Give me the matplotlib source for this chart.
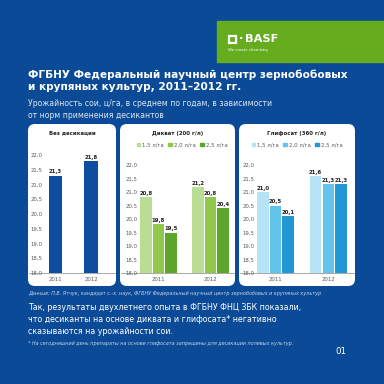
"""
Soybean yield vs desiccant rate, BASF infographic style (3 panels).
"""

import matplotlib
matplotlib.use("Agg")
import matplotlib.pyplot as plt
from matplotlib.patches import FancyBboxPatch, Rectangle, Patch
from matplotlib.lines import Line2D

# Data
years = ["2011", "2012"]
rates = ["1,5 л/га", "2,0 л/га", "2,5 л/га"]
no_desic = [21.3, 21.8]
diquat_2011 = [20.8, 19.8, 19.5]
diquat_2012 = [21.2, 20.8, 20.4]
glyph_2011 = [21.0, 20.5, 20.1]
glyph_2012 = [21.6, 21.3, 21.3]
yticks = [18.0, 18.5, 19.0, 19.5, 20.0, 20.5, 21.0, 21.5, 22.0]

# Colours
bg_blue = "#0b4a96"
basf_green = "#65ac1e"
dark_blue = "#0d4ea0"
greens = ["#b9de93", "#8fc84a", "#5ea52b"]
blues = ["#b6e3f6", "#62c3eb", "#2297d5"]
tick_grey = "#5a5a5a"

W = H = 384.0


def fx(x):
    return x / W


def fy(y):
    return 1 - y / H


def fmt(v):
    return f"{v:.1f}".replace(".", ",")


fig = plt.figure(figsize=(3.84, 3.84), dpi=100)
fig.patch.set_facecolor(bg_blue)

# BASF logo box
fig.patches.append(Rectangle((fx(217), fy(62)), fx(167), 41 / H,
                             transform=fig.transFigure, color=basf_green, zorder=1))
fig.patches.append(Rectangle((fx(229), fy(42.5)), 6.5 / W, 6.5 / H, transform=fig.transFigure,
                             facecolor="none", edgecolor="white", lw=1.6, zorder=2))
fig.text(fx(238.5), fy(39), "·", color="white", fontsize=8, fontweight="bold", va="center")
fig.text(fx(245), fy(39), "BASF", color="white", fontsize=8.2, fontweight="bold", va="center")
fig.text(fx(228), fy(49.5), "We create chemistry", color="white", fontsize=2.8, va="center")

# Headings
fig.text(fx(28), fy(75), "ФГБНУ Федеральный научный центр зернобобовых",
         color="white", fontsize=7.6, fontweight="bold", va="center")
fig.text(fx(28), fy(87.5), "и крупяных культур, 2011–2012 гг.",
         color="white", fontsize=7.6, fontweight="bold", va="center")
fig.text(fx(28), fy(104), "Урожайность сои, ц/га, в среднем по годам, в зависимости",
         color="#dce6f2", fontsize=5.6, va="center")
fig.text(fx(28), fy(116), "от норм применения десикантов",
         color="#dce6f2", fontsize=5.6, va="center")

# Panels: (x0, x1, title)
panels = [(28, 116, "Без десикации"),
          (120, 235, "Дикват (200 г/л)"),
          (239, 355, "Глифосат (360 г/л)")]
for x0, x1, title in panels:
    fig.patches.append(FancyBboxPatch((fx(x0), fy(286)), fx(x1 - x0), 162 / H,
                                      boxstyle="round,pad=0,rounding_size=0.018",
                                      transform=fig.transFigure, facecolor="white",
                                      edgecolor="none", zorder=1))
    fig.add_artist(Line2D([fx(x0 + 1), fx(x1 - 1)], [fy(273), fy(273)],
                          transform=fig.transFigure, color="#9a9a9a", lw=0.6, zorder=3))
    fig.text(fx((x0 + x1) / 2), fy(133), title, fontsize=3.9, fontweight="bold",
             ha="center", va="center", color="#222222", zorder=4)


def style_axis(ax):
    ax.set_facecolor("none")
    for s in ax.spines.values():
        s.set_visible(False)
    ax.set_ylim(18.0, 22.0)
    ax.set_yticks(yticks)
    ax.set_yticklabels([fmt(t) for t in yticks])
    ax.set_xticks([0, 1])
    ax.set_xticklabels(years)
    ax.tick_params(length=0, labelsize=3.9, labelcolor=tick_grey)
    ax.tick_params(axis="y", pad=1.2)
    ax.tick_params(axis="x", pad=3)


def label_bars(ax, bars, values):
    for b, v in zip(bars, values):
        ax.text(b.get_x() + b.get_width() / 2, v + 0.04, fmt(v), ha="center", va="bottom",
                fontsize=3.9, fontweight="bold", color="#222222")


# Panel 1: no desiccation
ax1 = fig.add_axes([fx(44), fy(273), fx(68), 118 / H])
ax1.set_zorder(5)
b = ax1.bar([0, 1], no_desic, width=0.37, color=dark_blue)
label_bars(ax1, b, no_desic)
ax1.set_xlim(-0.324, 1.59)
style_axis(ax1)

# Panels 2 and 3
step, bw = 0.24, 0.22
groups = [(139, 232, diquat_2011, diquat_2012, greens, 182),
          (256, 350, glyph_2011, glyph_2012, blues, 297)]
for ax_x0, ax_x1, v2011, v2012, cols, leg_x in groups:
    ax = fig.add_axes([fx(ax_x0), fy(273), fx(ax_x1 - ax_x0), 108 / H])
    ax.set_zorder(5)
    for i in range(3):
        vals = [v2011[i], v2012[i]]
        bars = ax.bar([(i - 1) * step, 1 + (i - 1) * step], vals, width=bw, color=cols[i])
        label_bars(ax, bars, vals)
    ax.set_xlim(-0.37, 1.41)
    style_axis(ax)
    handles = [Patch(color=c, label=r) for c, r in zip(cols, rates)]
    fig.legend(handles=handles, loc="center", bbox_to_anchor=(fx(leg_x), fy(145)),
               ncol=3, frameon=False, fontsize=3.9, handlelength=0.6, handleheight=0.6,
               handletextpad=0.35, columnspacing=0.9, labelcolor=tick_grey)

# Footer
fig.text(fx(28), fy(294), "Данные: П.В. Ятчук, кандидат с.-х. наук, ФГБНУ Федеральный научный центр зернобобовых и крупяных культур",
         color="#c8d6ea", fontsize=3.55, style="italic", va="center")
conclusion = ["Так, результаты двухлетнего опыта в ФГБНУ ФНЦ ЗБК показали,",
              "что десиканты на основе диквата и глифосата* негативно",
              "сказываются на урожайности сои."]
for k, line in enumerate(conclusion):
    fig.text(fx(28), fy(307 + 12.3 * k), line, color="white", fontsize=5.65, va="center")
fig.text(fx(28), fy(343), "* На сегодняшний день препараты на основе глифосата запрещены для десикации полевых культур.",
         color="#c8d6ea", fontsize=3.5, style="italic", va="center")
fig.text(fx(335), fy(351), "01", color="white", fontsize=6.2, va="center")

fig.savefig("out.png", dpi=100, facecolor=fig.get_facecolor())
